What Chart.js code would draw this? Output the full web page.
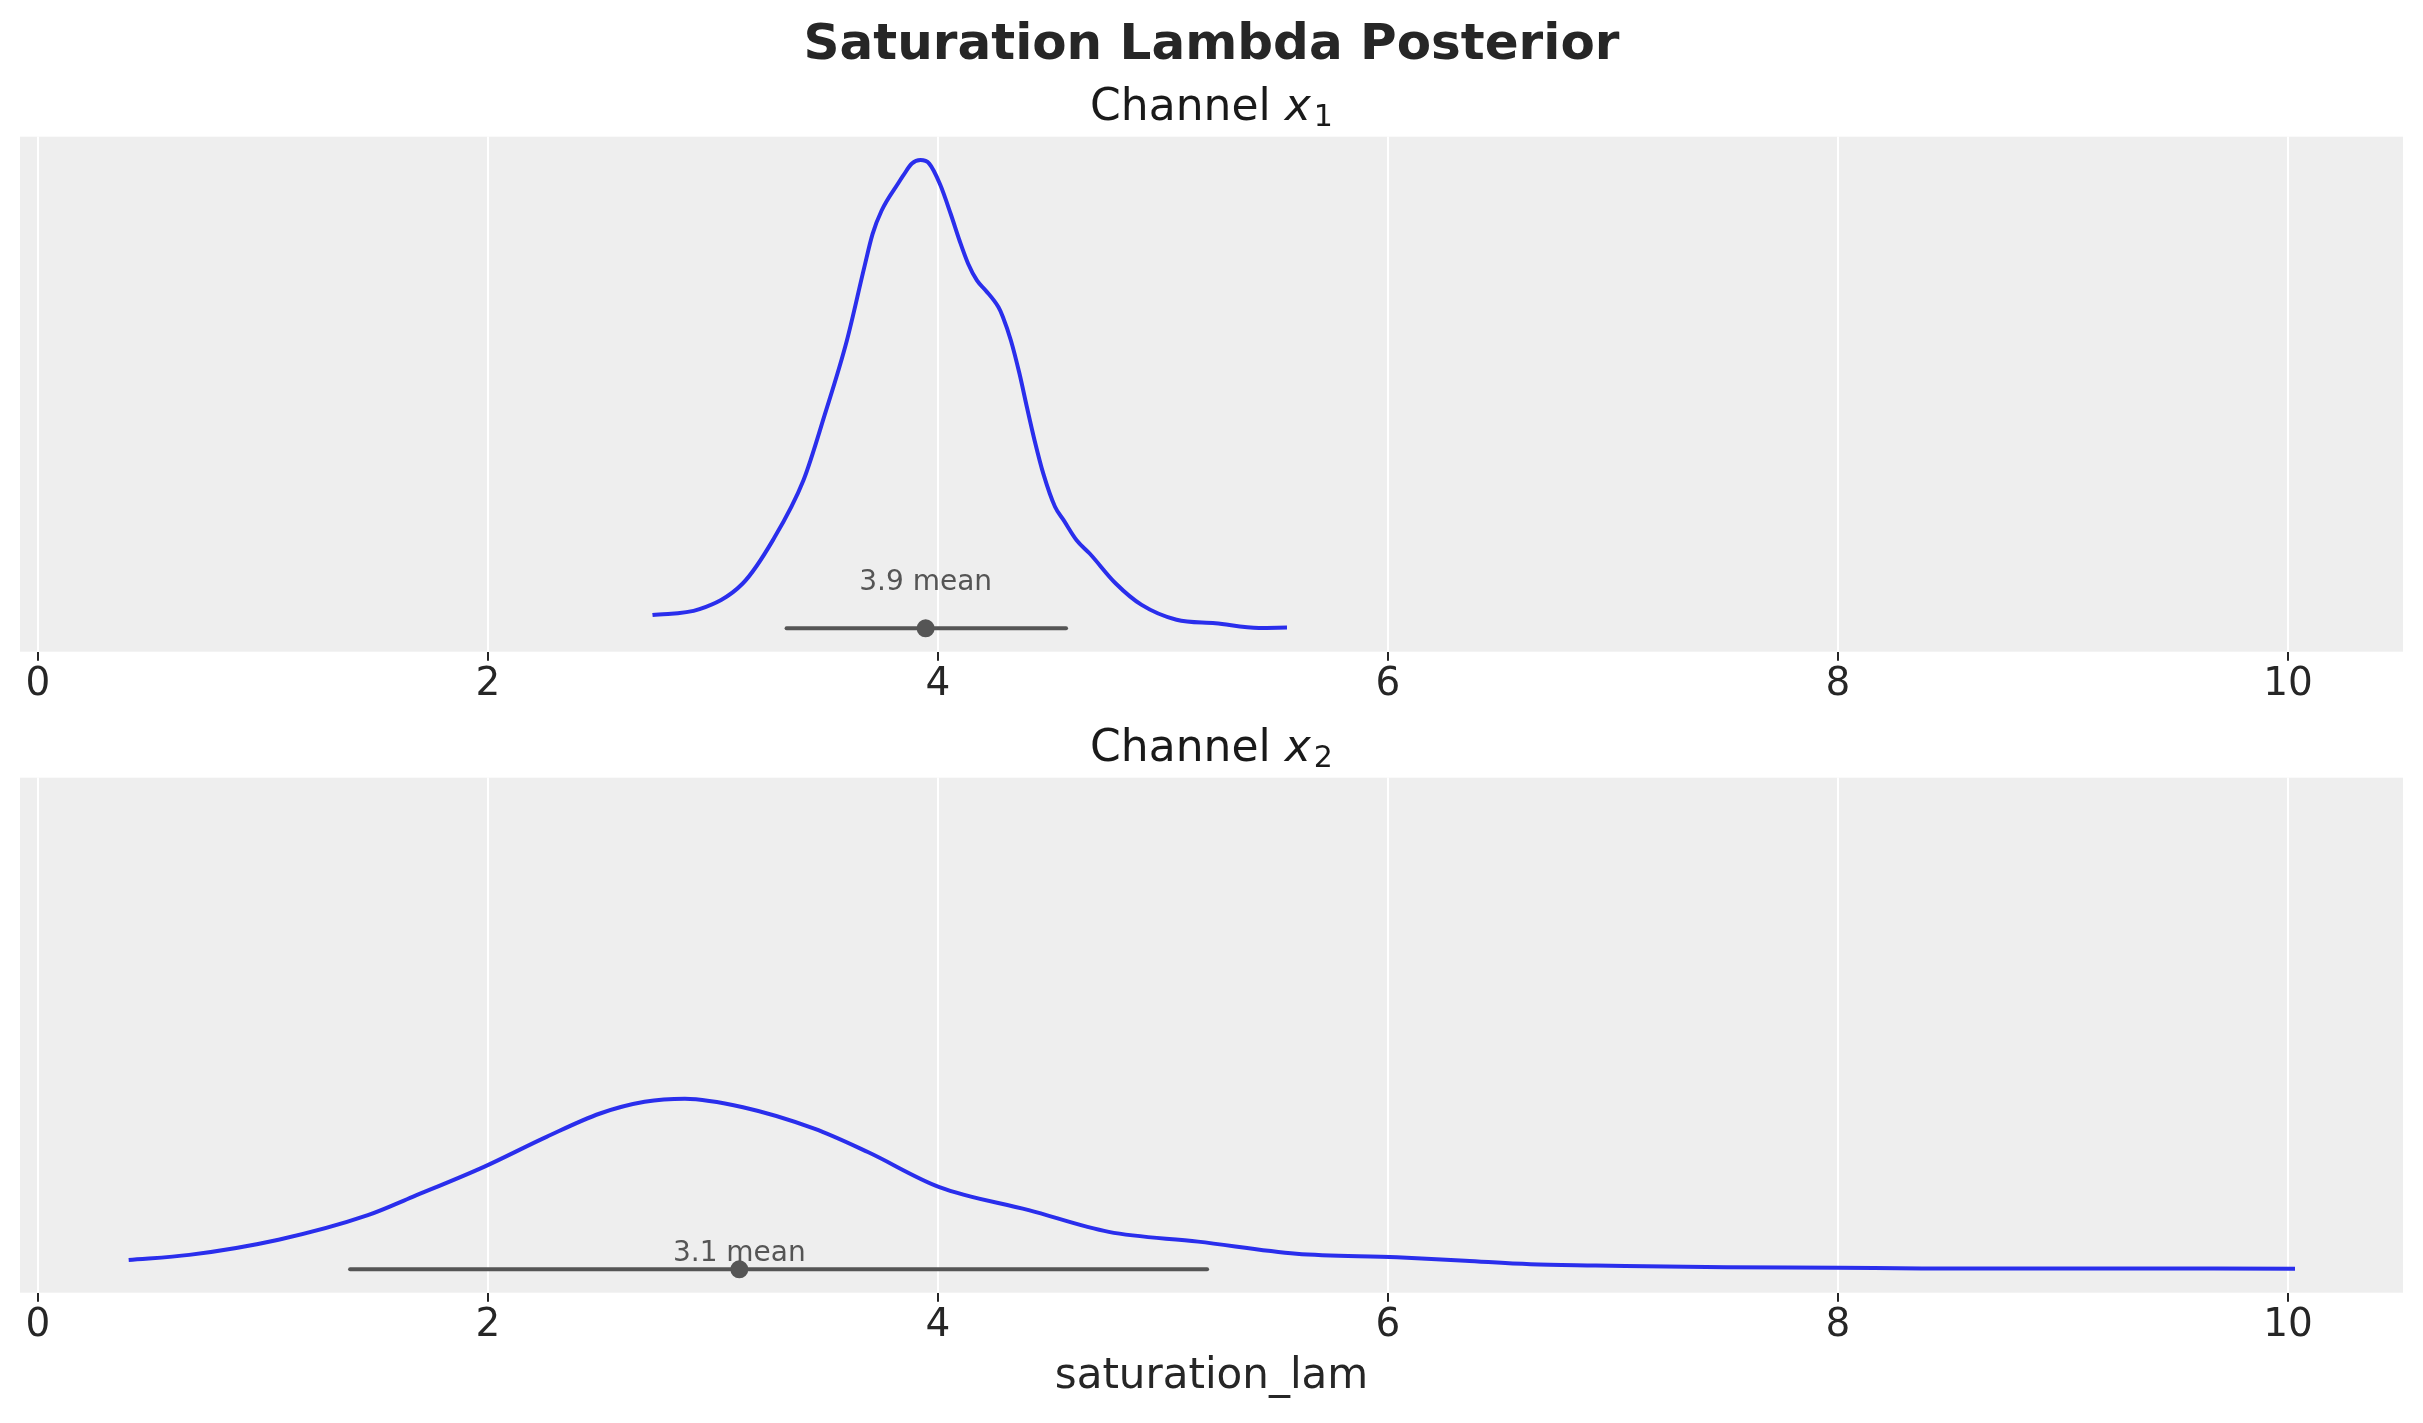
<!DOCTYPE html>
<html><head><meta charset="utf-8">
<script src="https://cdn.jsdelivr.net/npm/chart.js@4.4.1/dist/chart.umd.min.js"></script>
<style>
html,body{margin:0;padding:0;background:#fff;}
#wrap{position:relative;width:2423px;height:1423px;}
canvas{position:absolute;left:0;}
#c1{top:0;} #c2{top:720px;}
</style></head><body>
<div id="wrap"><canvas id="c1" width="2423" height="720"></canvas><canvas id="c2" width="2423" height="703"></canvas></div>
<script>
const figureTitle = 'Saturation Lambda Posterior';
const channelPrefix = 'Channel ';
const channelVar = 'x';
const channelSubs = ['1', '2'];
const axisLabel = 'saturation_lam';
const tickValues = [0, 2, 4, 6, 8, 10];
const tickLabels = ['0', '2', '4', '6', '8', '10'];

const x1Grid = [2.731, 2.94, 3.132, 3.267, 3.402, 3.498, 3.595, 3.672, 3.709, 3.749, 3.826, 3.845, 3.884, 3.922, 3.961, 4.009, 4.057, 4.096, 4.134, 4.173, 4.211, 4.269, 4.288, 4.324, 4.362, 4.395, 4.429, 4.468, 4.52, 4.559, 4.616, 4.674, 4.79, 4.905, 5.06, 5.233, 5.426, 5.551];
const x1Density = [0.034, 0.049, 0.115, 0.227, 0.380, 0.551, 0.739, 0.926, 1.012, 1.072, 1.145, 1.162, 1.193, 1.202, 1.193, 1.140, 1.063, 0.995, 0.936, 0.893, 0.868, 0.824, 0.800, 0.739, 0.654, 0.568, 0.483, 0.397, 0.312, 0.277, 0.226, 0.192, 0.115, 0.060, 0.022, 0.013, 0.001, 0.002];

const x2Grid = [0.403, 0.672, 1.069, 1.466, 1.665, 1.982, 2.26, 2.498, 2.696, 2.875, 3.133, 3.45, 3.688, 4.006, 4.403, 4.759, 5.156, 5.593, 6.04, 6.343, 6.633, 6.923, 7.503, 8.004, 8.373, 8.952, 10.031];
const x2Density = [0.024, 0.037, 0.076, 0.139, 0.186, 0.263, 0.340, 0.400, 0.430, 0.438, 0.416, 0.361, 0.301, 0.211, 0.152, 0.096, 0.071, 0.040, 0.031, 0.022, 0.013, 0.010, 0.005, 0.004, 0.002, 0.002, 0.0016];

const means = [3.945, 3.117];
const meanLabels = ['3.9 mean', '3.1 mean'];
const hdiLow = [3.327, 1.387];
const hdiHigh = [4.569, 5.196];
const meanLabelHeights = [0.098, 0.022];

const xMin = -0.08, xMax = 10.511;
const yMin = -0.0601, yMax = 1.2621;

const FONT = '"DejaVu Sans"';

const bgPlugin = {
  id: 'panelBg',
  beforeDraw(chart) {
    const ca = chart.chartArea, ctx = chart.ctx;
    ctx.save();
    ctx.fillStyle = '#eeeeee';
    ctx.fillRect(ca.left, ca.top, ca.right - ca.left, ca.bottom - ca.top);
    ctx.restore();
  }
};

const textPlugin = {
  id: 'panelText',
  afterDatasetsDraw(chart, args, opts) {
    const ctx = chart.ctx;
    const xs = chart.scales.x, ys = chart.scales.y;
    ctx.save();
    ctx.font = '28px ' + FONT;
    ctx.fillStyle = '#555555';
    ctx.textAlign = 'center';
    ctx.textBaseline = 'alphabetic';
    ctx.fillText(meanLabels[opts.idx], xs.getPixelForValue(means[opts.idx]), ys.getPixelForValue(meanLabelHeights[opts.idx]));
    ctx.restore();
  },
  afterDraw(chart, args, opts) {
    const ctx = chart.ctx, ca = chart.chartArea;
    ctx.save();
    ctx.textBaseline = 'alphabetic';
    if (opts.mainTitle) {
      ctx.font = 'bold 50px ' + FONT;
      ctx.fillStyle = '#262626';
      ctx.textAlign = 'center';
      ctx.fillText(opts.mainTitle, chart.width / 2, opts.mainTitleY);
    }
    const f1 = '44px ' + FONT, f2 = 'oblique 44px ' + FONT, f3 = '30px ' + FONT;
    ctx.font = f1; const w1 = ctx.measureText(channelPrefix).width;
    ctx.font = f2; const w2 = ctx.measureText(channelVar).width;
    ctx.font = f3; const w3 = ctx.measureText(channelSubs[opts.idx]).width;
    const total = w1 + w2 + 3 + w3;
    let x = (ca.left + ca.right) / 2 - total / 2;
    const base = ca.top - 16.5;
    ctx.fillStyle = '#1a1a1a';
    ctx.textAlign = 'left';
    ctx.font = f1; ctx.fillText(channelPrefix, x, base); x += w1;
    ctx.font = f2; ctx.fillText(channelVar, x, base); x += w2 + 3;
    ctx.font = f3; ctx.fillText(channelSubs[opts.idx], x, base + 6);
    ctx.restore();
  }
};

function makeChart(id, idx, xs, ds, padTop, axisH, extra) {
  const curve = xs.map((x, i) => ({x: x, y: ds[i]}));
  const xTitle = extra.showAxisTitle ? {
    display: true, text: axisLabel, color: '#262626',
    font: {family: 'DejaVu Sans', size: 42},
    padding: {top: 0, bottom: 20.5}
  } : {display: false};
  return new Chart(document.getElementById(id), {
    type: 'line',
    data: {
      datasets: [
        {data: curve, borderColor: '#2a2eec', borderWidth: 4, pointRadius: 0, cubicInterpolationMode: 'monotone', fill: false, order: 0},
        {data: [{x: means[idx], y: 0}], showLine: false, pointRadius: 9, pointBackgroundColor: '#555555', pointBorderColor: '#555555', pointBorderWidth: 0, order: 1},
        {data: [{x: hdiLow[idx], y: 0}, {x: hdiHigh[idx], y: 0}], borderColor: '#555555', borderWidth: 4, pointRadius: 0, borderCapStyle: 'round', fill: false, order: 2}
      ]
    },
    options: {
      responsive: false,
      animation: false,
      devicePixelRatio: 1,
      events: [],
      layout: {padding: {left: 20, right: 20, top: padTop, bottom: 0}},
      plugins: {
        legend: {display: false},
        tooltip: {enabled: false},
        panelText: {idx: idx, mainTitle: extra.mainTitle || null, mainTitleY: 59}
      },
      scales: {
        x: {
          type: 'linear', min: xMin, max: xMax,
          afterBuildTicks: s => { s.ticks = tickValues.map(v => ({value: v})); },
          afterFit: s => { s.height = axisH; },
          ticks: {
            autoSkip: false, maxRotation: 0, minRotation: 0, padding: 0.5, color: '#262626',
            font: {family: 'DejaVu Sans', size: 39},
            callback: (v, i) => tickLabels[i]
          },
          grid: {color: '#ffffff', lineWidth: 2, drawTicks: true, tickColor: '#262626', tickWidth: 2, tickLength: 9},
          border: {display: false},
          title: xTitle
        },
        y: {display: false, min: yMin, max: yMax}
      }
    },
    plugins: [bgPlugin, textPlugin]
  });
}

makeChart('c1', 0, x1Grid, x1Density, 136.7, 68.3, {mainTitle: figureTitle});
makeChart('c2', 1, x2Grid, x2Density, 57.7, 130.3, {showAxisTitle: true});
</script>
</body></html>
